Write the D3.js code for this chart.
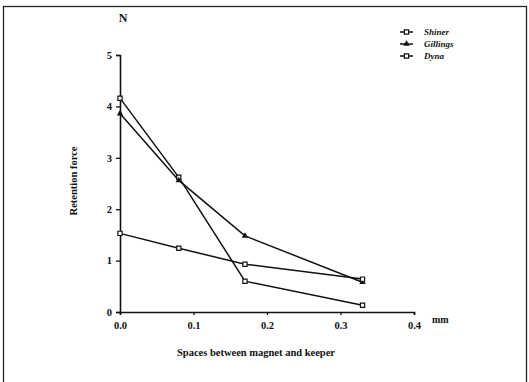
<!DOCTYPE html>
<html>
<head>
<meta charset="utf-8">
<script src="https://cdn.jsdelivr.net/npm/d3@7"></script>
<style>
  body { margin: 0; background: #fff; }
  svg text { font-family: "Liberation Serif", "DejaVu Serif", serif; font-weight: bold; fill: #111; }
</style>
</head>
<body>
<div id="chart"></div>
<script>
// data
const spaces = [0.0, 0.08, 0.17, 0.33];
const shiner = [4.16, 2.62, 0.60, 0.13];
const gillings = [3.86, 2.56, 1.48, 0.58];
const dyna = [1.53, 1.24, 0.93, 0.64];
const yTicks = [0, 1, 2, 3, 4, 5];
const xTicks = [0.0, 0.1, 0.2, 0.3, 0.4];
const seriesNames = ['Shiner', 'Gillings', 'Dyna'];

const width = 529, height = 382;
const svg = d3.select('#chart').append('svg')
  .attr('width', width)
  .attr('height', height);

// outer frame of the figure
svg.append('rect')
  .attr('x', 3.5).attr('y', 6.5)
  .attr('width', 523).attr('height', 400)
  .attr('fill', 'none')
  .attr('stroke', '#222')
  .attr('stroke-width', 1.3);

const x = d3.scaleLinear().domain([0, 0.4]).range([120, 414]);
const y = d3.scaleLinear().domain([0, 5]).range([312, 55]);

const xAxis = svg.append('g')
  .attr('transform', `translate(0,${y(0)})`)
  .call(d3.axisBottom(x).tickValues(xTicks).tickFormat(d3.format('.1f')).tickSize(3).tickPadding(7));
xAxis.selectAll('text').style('font-size', '10.5px');

const yAxis = svg.append('g')
  .attr('transform', `translate(${x(0)},0)`)
  .call(d3.axisLeft(y).tickValues(yTicks).tickFormat(d3.format('d')).tickSize(4).tickPadding(4));
yAxis.selectAll('text').style('font-size', '10.5px');

svg.selectAll('.domain').attr('stroke', '#111').attr('stroke-width', 1.6);
svg.selectAll('.tick line').attr('stroke', '#111').attr('stroke-width', 1.3);

// axis titles
svg.append('text').attr('x', 123).attr('y', 22)
  .attr('text-anchor', 'middle').style('font-size', '12px').text('N');
svg.append('text').attr('x', 432).attr('y', 323)
  .style('font-size', '10px').text('mm');
svg.append('text').attr('x', 256).attr('y', 356)
  .attr('text-anchor', 'middle').style('font-size', '10.5px')
  .text('Spaces between magnet and keeper');
svg.append('text')
  .attr('transform', 'translate(77,181) rotate(-90)')
  .attr('text-anchor', 'middle').style('font-size', '10.5px')
  .text('Retention force');

const line = d3.line()
  .x((d, i) => x(spaces[i]))
  .y(d => y(d));

const series = [
  { name: seriesNames[0], values: shiner, marker: 'square' },
  { name: seriesNames[1], values: gillings, marker: 'triangle' },
  { name: seriesNames[2], values: dyna, marker: 'square' }
];

const symSquare = d3.symbol().type(d3.symbolSquare).size(18);
const symTri = d3.symbol().type(d3.symbolTriangle).size(18);

function drawMarker(g, cx, cy, kind) {
  if (kind === 'square') {
    g.append('path').attr('d', symSquare())
      .attr('transform', `translate(${cx},${cy})`)
      .attr('fill', '#fff').attr('stroke', '#111').attr('stroke-width', 1.2);
  } else {
    g.append('path').attr('d', symTri())
      .attr('transform', `translate(${cx},${cy})`)
      .attr('fill', '#111');
  }
}

series.forEach(s => {
  svg.append('path')
    .datum(s.values)
    .attr('d', line)
    .attr('fill', 'none')
    .attr('stroke', '#111')
    .attr('stroke-width', 1.5);
});
series.forEach(s => {
  const g = svg.append('g');
  s.values.forEach((v, i) => drawMarker(g, x(spaces[i]), y(v), s.marker));
});

// legend
const legend = svg.append('g');
series.forEach((s, i) => {
  const ly = 32 + i * 12;
  legend.append('line')
    .attr('x1', 400).attr('x2', 413)
    .attr('y1', ly).attr('y2', ly)
    .attr('stroke', '#111').attr('stroke-width', 1.5);
  drawMarker(legend, 406.5, ly, s.marker);
  legend.append('text')
    .attr('x', 424).attr('y', ly + 3)
    .style('font-size', '9px')
    .style('font-style', 'italic')
    .text(s.name);
});
</script>
</body>
</html>
